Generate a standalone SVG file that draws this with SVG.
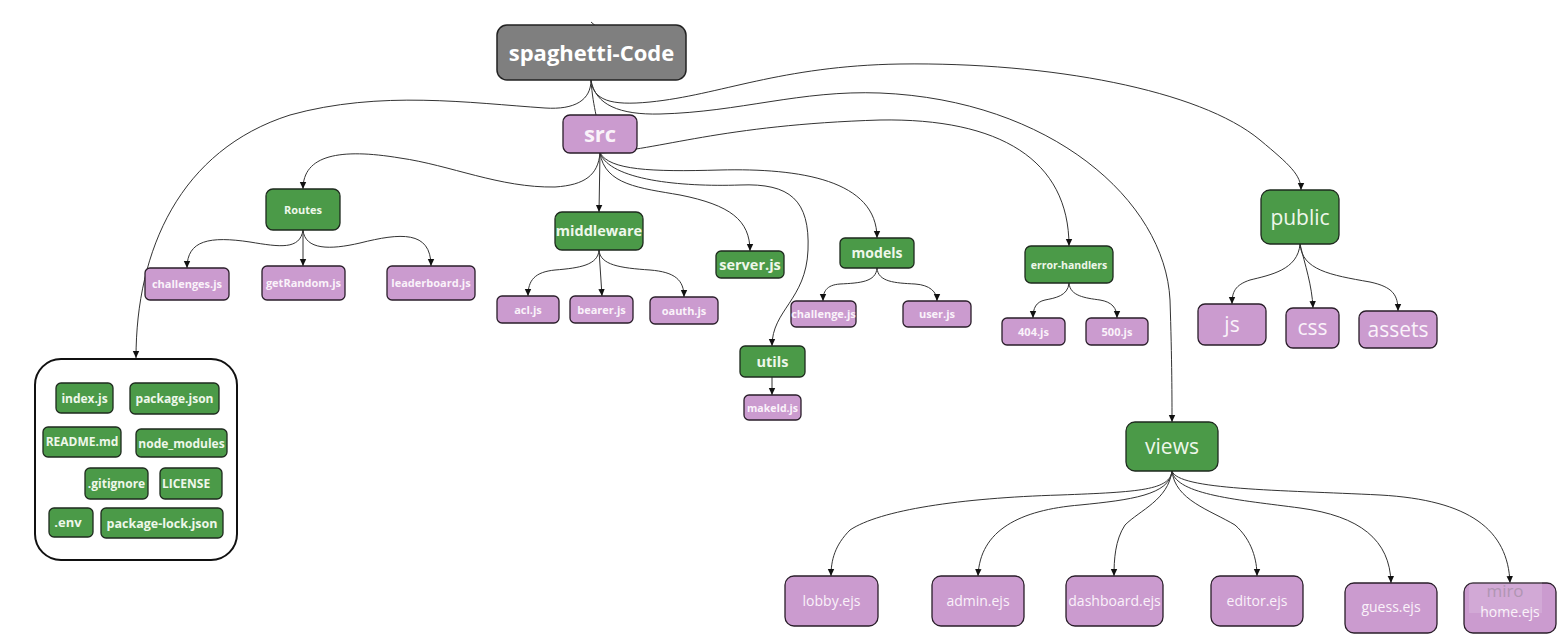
<svg xmlns="http://www.w3.org/2000/svg" width="1566" height="638" viewBox="0 0 1566 638">
<style>
.g rect{fill:#4b9a48;stroke:#1e2a1e;stroke-width:1.3}
.p rect{fill:#cb9bcf;stroke:#2a1e2a;stroke-width:1.3}
.k rect{fill:#7f7f7f;stroke:#222;stroke-width:1.5}
text{font-family:"Open Sans","Noto Sans","Liberation Sans",sans-serif;text-anchor:middle}
.g text{fill:#eef7ea}
.p text{fill:#faf2fa}
.b{font-weight:700}
.c path{fill:none;stroke:#333;stroke-width:1}
.c .a{marker-end:url(#ar)}
</style>
<defs>
<marker id="ar" markerWidth="8" markerHeight="8" refX="7" refY="4" orient="auto" markerUnits="userSpaceOnUse">
<path d="M0,0.8 L7,4 L0,7.2 Z" fill="#111"/>
</marker>
</defs>
<rect width="1566" height="638" fill="#fff"/>
<g id="connectors" class="c">
<path d="M591,22 L598,28"/>
<path class="a" d="M591,80 C591,100 575,110 545,108 C470,103 380,90 290,115 C180,150 136,250 136,358"/>
<path d="M591,80 C592,95 594,105 596,115"/>
<path class="a" d="M591,80 C593,100 610,106 650,102 C720,95 780,66 900,64 C1050,62 1200,90 1260,140 C1290,165 1301,175 1301,190"/>
<path class="a" d="M591,80 C595,105 620,115 660,114 C740,112 800,90 880,93 C1050,100 1165,200 1170,300 C1172,360 1172,400 1172,422"/>
<path class="a" d="M600,153 C598,175 585,185 555,187 C500,188 450,165 400,158 C340,148 303,155 303,189"/>
<path class="a" d="M600,153 L599,212"/>
<path class="a" d="M600,153 C605,185 640,188 680,195 C730,205 750,220 750,251"/>
<path class="a" d="M600,153 C610,170 650,172 720,170 C800,168 877,180 877,238"/>
<path class="a" d="M600,153 C610,180 680,187 740,185 C790,183 810,200 808,250 C806,300 772,310 772,346"/>
<path class="a" d="M600,153 C660,150 720,125 880,120 C1000,118 1069,160 1069,246"/>
<path class="a" d="M303,230 C300,250 280,247 250,242 C210,236 187,240 187,268"/>
<path class="a" d="M303,230 L303,266"/>
<path class="a" d="M303,230 C305,250 330,250 360,243 C400,233 431,230 431,266"/>
<path class="a" d="M599,250 C598,265 580,268 555,270 C535,272 528,280 528,296"/>
<path class="a" d="M599,250 L602,296"/>
<path class="a" d="M599,250 C600,265 620,268 650,270 C675,272 684,280 684,297"/>
<path class="a" d="M877,268 C876,282 860,283 840,284 C826,285 823,292 823,301"/>
<path class="a" d="M877,268 C878,282 895,283 915,284 C930,285 937,292 937,301"/>
<path class="a" d="M1069,283 C1068,296 1055,298 1045,300 C1036,302 1033,308 1033,318"/>
<path class="a" d="M1069,283 C1070,296 1085,298 1100,300 C1112,302 1117,308 1117,318"/>
<path class="a" d="M1300,244 C1298,270 1270,275 1250,280 C1235,285 1232,292 1232,304"/>
<path class="a" d="M1300,244 C1305,265 1312,285 1313,308"/>
<path class="a" d="M1300,244 C1302,270 1330,275 1370,282 C1393,287 1398,295 1398,311"/>
<path class="a" d="M772,377 L772,395"/>
<path class="a" d="M1172,471 C1170,490 1140,492 1060,495 C960,498 880,510 850,530 C835,545 831,560 831,576"/>
<path class="a" d="M1172,471 C1170,495 1130,500 1080,505 C1020,510 980,530 978,576"/>
<path class="a" d="M1172,471 C1168,500 1140,510 1125,525 C1115,540 1114,560 1114,576"/>
<path class="a" d="M1172,471 C1175,500 1210,510 1235,525 C1252,540 1257,560 1257,576"/>
<path class="a" d="M1172,471 C1176,495 1240,500 1300,508 C1360,516 1390,540 1391,583"/>
<path class="a" d="M1172,471 C1178,490 1280,490 1380,495 C1470,500 1508,530 1510,583"/>
</g>
<g id="spaghetti-code" class="k"><rect x="497" y="25" width="189" height="55" rx="10"/><text class="b" x="591.5" y="60.5" font-size="22" fill="#fff">spaghetti-Code</text></g>
<g id="src" class="p"><rect x="563" y="115" width="74" height="38" rx="7"/><text class="b" x="600" y="142" font-size="22">src</text></g>
<g id="routes" class="g"><rect x="266" y="189" width="74" height="41" rx="7"/><text class="b" x="303" y="213.5" font-size="11">Routes</text></g>
<g id="challenges-js" class="p"><rect x="145" y="268" width="84" height="32" rx="5"/><text class="b" x="187" y="288" font-size="11">challenges.js</text></g>
<g id="getrandom-js" class="p"><rect x="262" y="266" width="83" height="34" rx="5"/><text class="b" x="303.5" y="287" font-size="11">getRandom.js</text></g>
<g id="leaderboard-js" class="p"><rect x="387" y="266" width="88" height="34" rx="5"/><text class="b" x="431" y="287" font-size="11">leaderboard.js</text></g>
<g id="middleware" class="g"><rect x="555" y="212" width="88" height="38" rx="7"/><text class="b" x="599" y="236" font-size="14.5">middleware</text></g>
<g id="acl-js" class="p"><rect x="497" y="296" width="62" height="27" rx="5"/><text class="b" x="528" y="313.5" font-size="11">acl.js</text></g>
<g id="bearer-js" class="p"><rect x="570" y="296" width="63" height="27" rx="5"/><text class="b" x="601.5" y="313.5" font-size="11">bearer.js</text></g>
<g id="oauth-js" class="p"><rect x="650" y="297" width="68" height="27" rx="5"/><text class="b" x="684" y="314.5" font-size="11">oauth.js</text></g>
<g id="server-js" class="g"><rect x="716" y="251" width="68" height="27" rx="5"/><text class="b" x="750" y="269.5" font-size="14.5">server.js</text></g>
<g id="utils" class="g"><rect x="740" y="346" width="65" height="31" rx="5"/><text class="b" x="772.5" y="366.5" font-size="14.5">utils</text></g>
<g id="makeid-js" class="p"><rect x="744" y="395" width="57" height="25" rx="5"/><text class="b" x="772.5" y="411.5" font-size="10.5">makeId.js</text></g>
<g id="models" class="g"><rect x="840" y="238" width="74" height="30" rx="5"/><text class="b" x="877" y="258" font-size="14">models</text></g>
<g id="challenge-js" class="p"><rect x="791" y="301" width="65" height="26" rx="5"/><text class="b" x="823.5" y="318" font-size="11">challenge.js</text></g>
<g id="user-js" class="p"><rect x="903" y="301" width="68" height="26" rx="5"/><text class="b" x="937" y="318" font-size="11">user.js</text></g>
<g id="error-handlers" class="g"><rect x="1025" y="246" width="88" height="37" rx="6"/><text class="b" x="1069" y="268.5" font-size="10.5">error-handlers</text></g>
<g id="js-404" class="p"><rect x="1002" y="318" width="63" height="27" rx="5"/><text class="b" x="1033.5" y="335.5" font-size="11">404.js</text></g>
<g id="js-500" class="p"><rect x="1086" y="318" width="62" height="27" rx="5"/><text class="b" x="1117" y="335.5" font-size="11">500.js</text></g>
<g id="public" class="g"><rect x="1261" y="190" width="78" height="54" rx="9"/><text x="1300" y="224.5" font-size="21">public</text></g>
<g id="js" class="p"><rect x="1198" y="304" width="68" height="41" rx="7"/><text x="1232" y="331.5" font-size="21">js</text></g>
<g id="css" class="p"><rect x="1286" y="308" width="53" height="40" rx="7"/><text x="1312.5" y="335" font-size="21">css</text></g>
<g id="assets" class="p"><rect x="1359" y="311" width="78" height="37" rx="7"/><text x="1398" y="336.5" font-size="21">assets</text></g>
<g id="views" class="g"><rect x="1126" y="422" width="92" height="49" rx="9"/><text x="1172" y="454" font-size="21">views</text></g>
<g id="lobby-ejs" class="p"><rect x="785" y="576" width="93" height="50" rx="9"/><text x="831.5" y="606" font-size="14">lobby.ejs</text></g>
<g id="admin-ejs" class="p"><rect x="932" y="576" width="92" height="50" rx="9"/><text x="978" y="606" font-size="14">admin.ejs</text></g>
<g id="dashboard-ejs" class="p"><rect x="1066" y="576" width="97" height="50" rx="9"/><text x="1114.5" y="606" font-size="14">dashboard.ejs</text></g>
<g id="editor-ejs" class="p"><rect x="1211" y="576" width="92" height="50" rx="9"/><text x="1257" y="606" font-size="14">editor.ejs</text></g>
<g id="guess-ejs" class="p"><rect x="1345" y="583" width="92" height="50" rx="9"/><text x="1391" y="612" font-size="14">guess.ejs</text></g>
<g id="home-ejs" class="p"><rect x="1464" y="583" width="92" height="50" rx="9"/><text x="1510" y="617" font-size="14">home.ejs</text></g>
<g id="miro-mark"><rect x="1469" y="582" width="73" height="31" fill="#fff" opacity="0.15"/><text x="1505" y="597" font-size="17" fill="#9a8a9c" opacity="0.6">miro</text></g>
<g id="root-files">
<rect x="35" y="359" width="202" height="201" rx="26" fill="#fff" stroke="#111" stroke-width="2"/>
<g id="index-js" class="g"><rect x="56" y="383" width="57" height="30" rx="5"/><text class="b" x="84.5" y="402.5" font-size="12">index.js</text></g>
<g id="package-json" class="g"><rect x="130" y="383" width="89" height="31" rx="5"/><text class="b" x="174.5" y="403" font-size="12">package.json</text></g>
<g id="readme-md" class="g"><rect x="43" y="427" width="78" height="30" rx="5"/><text class="b" x="82" y="446" font-size="12">README.md</text></g>
<g id="node-modules" class="g"><rect x="136" y="429" width="91" height="28" rx="5"/><text class="b" x="181.5" y="447.5" font-size="12">node_modules</text></g>
<g id="gitignore" class="g"><rect x="85" y="468" width="63" height="31" rx="5"/><text class="b" x="116.5" y="488" font-size="12">.gitignore</text></g>
<g id="license" class="g"><rect x="160" y="468" width="62" height="31" rx="5"/><text class="b" x="186" y="488" font-size="12">LICENSE</text></g>
<g id="env" class="g"><rect x="49" y="508" width="44" height="29" rx="5"/><text class="b" x="68" y="527" font-size="13">.env</text></g>
<g id="package-lock-json" class="g"><rect x="101" y="508" width="122" height="30" rx="5"/><text class="b" x="162" y="527.5" font-size="12.5">package-lock.json</text></g>
</g>
</svg>
